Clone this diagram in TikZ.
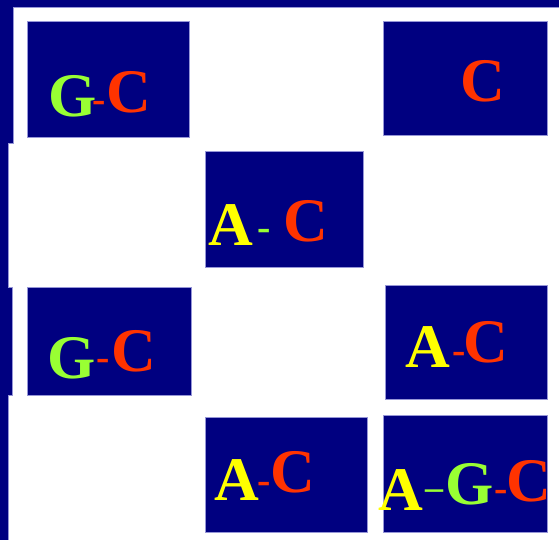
\documentclass[tikz,border=0pt]{standalone}
\usepackage{fontspec}
\setmainfont{Liberation Serif}
\usepackage{xcolor}
\definecolor{slidenavy}{RGB}{0,0,128}
\definecolor{slideedge}{RGB}{150,150,215}
\definecolor{baseA}{RGB}{255,255,0}
\definecolor{baseG}{RGB}{153,255,51}
\definecolor{baseC}{RGB}{255,51,0}
\usepackage{tikz}
\tikzset{
  cell/.style  ={rectangle,draw=slideedge,fill=slidenavy,line width=0.8pt,
                 anchor=north west,inner sep=0pt},
  letter/.style={inner sep=0pt,anchor=base west,font=\fontsize{62}{62}\selectfont\bfseries},
  bond/.style  ={inner sep=0pt,anchor=base,font=\fontsize{40}{40}\selectfont\bfseries},
}

\begin{document}
\begin{tikzpicture}[x=1pt,y=-1pt]
  \useasboundingbox (0,0) rectangle (559,539);
  % frame of the neighbouring slide cells
  \draw[fill=slidenavy,draw=slideedge,line width=0.8pt]
    (-2,-2) -- (561,-2) -- (561,7) -- (13,7) -- (13,143) -- (8,143) -- (8,287)
    -- (12,287) -- (12,395) -- (8,395) -- (8,541) -- (-2,541) -- cycle;
  % cells
  \foreach \i/\x/\y/\w/\h in {1/27/21/162/116, 2/383/21/164/114, 3/205/151/158/116,
      4/27/287/164/108, 5/385/285/162/114, 6/205/417/162/115, 7/383/415/164/117}{
    \node[cell,minimum width=\w pt,minimum height=\h pt] (cell\i) at (\x,\y) {};
  }
  % bases
  \foreach \n/\b/\x/\y in {g1/G/48/116, c1/C/106/112, c2/C/460/101,
      a3/A/208/245, c3/C/283/241, g4/G/47/378, c4/C/111/371,
      a5/A/405/367, c5/C/463/362, a6/A/214/500, c6/C/270/492,
      a7/A/378/510, g7/G/445/504, c7/C/506/501}{
    \node[letter,text=base\b] (\n) at (\x,\y) {\b};
  }
  % bonds
  \foreach \n/\col/\x/\y in {d1/baseC/99/112, d3/baseG/264/240, d4/baseC/103/370,
      d5/baseC/459/363, d6/baseC/264/493, d7/baseC/501/501}{
    \node[bond,text=\col] (\n) at (\x,\y) {-};
  }
  \node[bond,text=baseG,font=\fontsize{36}{36}\selectfont\bfseries] (e7) at (434,499) {\textendash};
\end{tikzpicture}
\end{document}
